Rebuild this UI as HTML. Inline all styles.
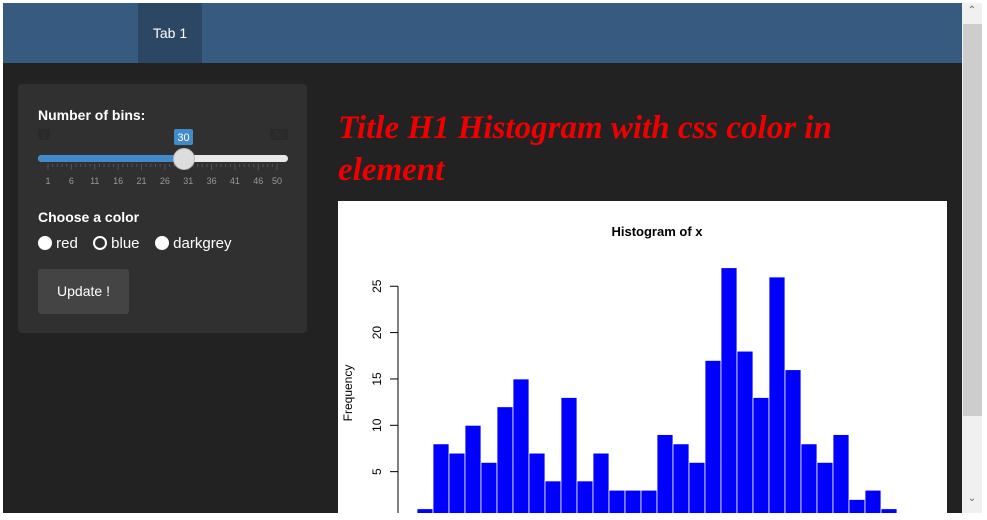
<!DOCTYPE html>
<html><head><meta charset="utf-8"><style>
body{margin:0;width:987px;height:520px;background:#fff;position:relative;overflow:hidden;font-family:"Liberation Sans",sans-serif}
#app{position:absolute;left:3px;top:3px;width:959px;height:510px;background:#222;overflow:hidden}
#nav{position:absolute;left:0;top:0;width:959px;height:60px;background:#375a7f}
#tab{position:absolute;left:135px;top:0;width:64px;height:60px;background:#2b4764;color:#fff;font-size:14px;line-height:60px;text-align:center}
#panel{position:absolute;left:15px;top:81px;width:289px;height:249px;background:#303030;border-radius:4px}
.lbl{position:absolute;color:#fff;font-weight:bold;font-size:14px}
#title{position:absolute;left:335px;top:104px;color:#e00;font:italic bold 33px "Liberation Serif",serif;line-height:42px;width:600px}
#plot{position:absolute;left:335px;top:198px;width:609px;height:320px;background:#fff}
#sb{position:absolute;left:962px;top:3px;width:20px;height:510px;background:#f0f0f0}
#thumb{position:absolute;left:1px;top:21px;width:19px;height:392px;background:#cdcdcd}
.rd{position:absolute;top:0;white-space:nowrap}
</style></head><body>
<div id="app">
<div id="nav"><div id="tab">Tab 1</div></div>
<div id="panel">
<div class="lbl" style="left:20px;top:23px">Number of bins:</div>
<svg style="position:absolute;left:0;top:40px" width="289" height="70">
<rect x="20" y="5" width="12" height="11" rx="2" fill="#2a2a2a"/><text x="26" y="14" font-size="9" fill="#333" text-anchor="middle">1</text>
<rect x="252" y="5" width="18" height="11" rx="2" fill="#2a2a2a"/><text x="261" y="14" font-size="9" fill="#333" text-anchor="middle">50</text>
<rect x="20" y="31" width="250" height="7" rx="3.5" fill="#e8e8e8"/>
<rect x="20" y="31" width="146" height="7" rx="3.5" fill="#428bca"/>
<rect x="156" y="5" width="19" height="16" rx="2" fill="#428bca"/><text x="165.5" y="17" font-size="11" fill="#fff" text-anchor="middle">30</text>
<g id="ticks"></g>
<circle cx="166" cy="35" r="10.5" fill="#ddd" stroke="#bbb"/>
</svg>
<div class="lbl" style="left:20px;top:125px">Choose a color</div>
<div style="position:absolute;left:20px;top:151px;color:#fff;font-size:15px;width:260px;height:20px">
<span class="rd" style="left:0"><span style="display:inline-block;width:14px;height:14px;border-radius:50%;background:#fff;vertical-align:-2px"></span> red</span>
<span class="rd" style="left:55px"><span style="display:inline-block;width:10px;height:10px;border-radius:50%;border:2px solid #fff;vertical-align:-2px"></span> blue</span>
<span class="rd" style="left:117px"><span style="display:inline-block;width:14px;height:14px;border-radius:50%;background:#fff;vertical-align:-2px"></span> darkgrey</span></div>
<div style="position:absolute;left:20px;top:185px;width:91px;height:45px;background:#444;border-radius:3px;color:#fff;font-size:14px;line-height:45px;text-align:center">Update !</div>
</div>
<div id="title">Title H1 Histogram with css color in element</div>
<svg id="plot" width="609" height="320"></svg>
</div>
<div id="sb"><div id="thumb"></div>
<div style="position:absolute;top:2px;width:20px;text-align:center;color:#666;font-size:10px">&#8963;</div>
<div style="position:absolute;top:490px;width:20px;text-align:center;color:#666;font-size:10px">&#8964;</div></div>
<script>
const counts=[1,8,7,10,6,12,15,7,4,13,4,7,3,3,3,9,8,6,17,27,18,13,26,16,8,6,9,2,3,1];
const yTicks=[5,10,15,20,25];
const sliderLabels=[1,6,11,16,21,26,31,36,41,46,50];
const NS="http://www.w3.org/2000/svg";
function mk(p,t,a){const e=document.createElementNS(NS,t);for(const k in a)e.setAttribute(k,a[k]);p.appendChild(e);return e;}
const tg=document.getElementById('ticks');
function sx(v){return 30+(v-1)*(259-30)/49;}
for(let v=1;v<=50;v++){const major=sliderLabels.includes(v);mk(tg,'line',{x1:sx(v),x2:sx(v),y1:40,y2:major?46:43,stroke:'#555'});}
sliderLabels.forEach(v=>{const t=mk(tg,'text',{x:sx(v),y:60,'font-size':9,fill:'#999','text-anchor':'middle'});t.textContent=v;});
const svg=document.getElementById('plot');
const x0=79,bw=16,y0=317,py=9.27,axX=60;
function X(i){return x0+i*bw;}
function Y(v){return y0-v*py;}
const tt=mk(svg,'text',{x:319,y:35,'font-size':13,'font-weight':'bold','text-anchor':'middle',fill:'#000'});tt.textContent='Histogram of x';

counts.forEach((c,i)=>{const r=mk(svg,'rect',{x:X(i),y:Y(c),width:bw,height:c*py,fill:'#0000ff',stroke:'#fff','stroke-width':0.8});

});
mk(svg,'line',{x1:axX,x2:axX,y1:Y(25),y2:320,stroke:'#000'});
yTicks.forEach(v=>{mk(svg,'line',{x1:axX-8,x2:axX,y1:Y(v),y2:Y(v),stroke:'#000'});
const t=mk(svg,'text',{x:0,y:0,'font-size':12,'text-anchor':'middle',fill:'#000',transform:`translate(43,${Y(v)}) rotate(-90)`});t.textContent=v;});
const yl=mk(svg,'text',{x:0,y:0,'font-size':12,'text-anchor':'middle',fill:'#000',transform:'translate(14,192) rotate(-90)'});yl.textContent='Frequency';

</script>
</body></html>
